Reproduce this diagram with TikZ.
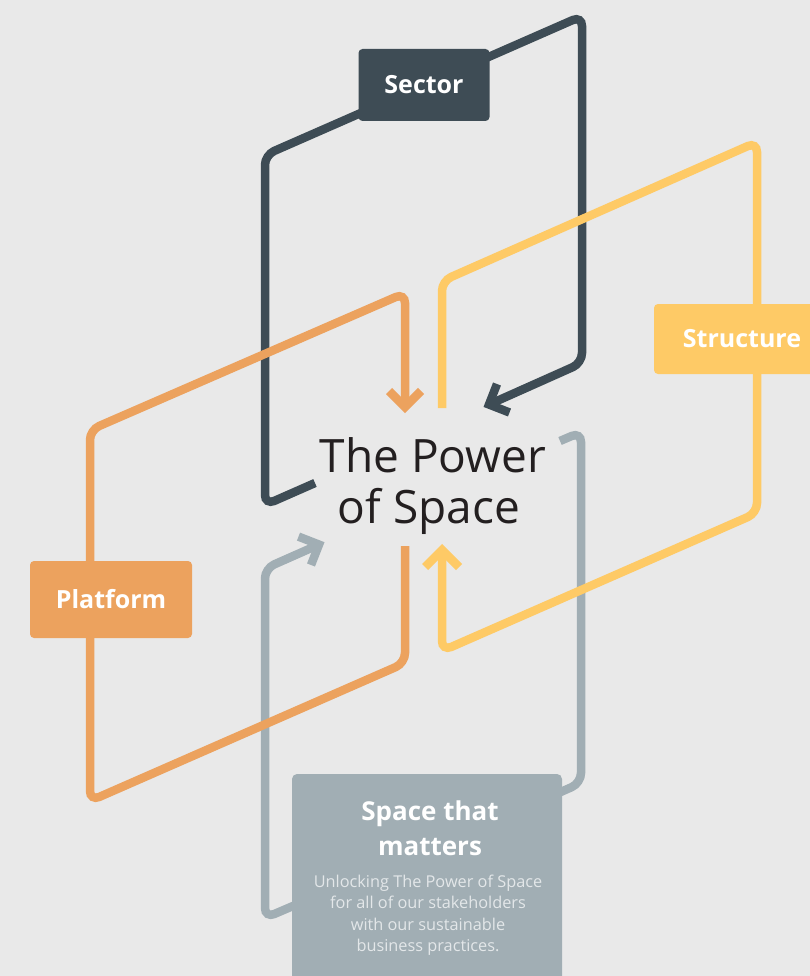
\documentclass[tikz,border=0pt]{standalone}
\usepackage{fontspec}
\setmainfont{Open Sans}
\definecolor{bg}{HTML}{E9E9E9}
\definecolor{slate}{HTML}{3E4C55}
\definecolor{amber}{HTML}{ECA25E}
\definecolor{sun}{HTML}{FECA66}
\definecolor{steel}{HTML}{A1AEB4}
\definecolor{ink}{HTML}{231F20}
\definecolor{pale}{HTML}{E3E7E9}
\tikzset{
  loopline/.style={line width=8.5pt, rounded corners=10pt, line cap=butt},
  chevron/.style={line width=8.5pt, line join=miter, line cap=butt},
  tag/.style={rounded corners=4pt, inner sep=0pt, text=white,
    font=\bfseries\fontsize{25}{29}\selectfont},
  headline/.style={text=ink, inner sep=0pt, font=\fontsize{46}{52}\selectfont},
  cardtitle/.style={text=white, inner sep=0pt, font=\bfseries\fontsize{26}{30}\selectfont},
  cardtext/.style={text=pale, inner sep=0pt, font=\fontsize{16.3}{20}\selectfont}
}
\begin{document}
\begin{tikzpicture}[x=1pt,y=-1pt]
\clip (0,0) rectangle (810,976);
\fill[bg] (0,0) rectangle (810,976);

% corner points of the four loops
\coordinate (s0) at (315,483);   \coordinate (s1) at (265,505);
\coordinate (s2) at (265,155);   \coordinate (s3) at (582,16);
\coordinate (s4) at (582,363);   \coordinate (sT) at (489,404.5);
\coordinate (sL) at (497,384);   \coordinate (sR) at (509.5,412.5);

\coordinate (g0) at (560,441);   \coordinate (g1) at (581,432);
\coordinate (g2) at (581,783);   \coordinate (g3) at (555,794.5);
\coordinate (g4) at (300,903);   \coordinate (g5) at (265,918);
\coordinate (g6) at (265,568.5); \coordinate (gT) at (319,544.6);
\coordinate (gL) at (298.5,536.6); \coordinate (gR) at (311,565);

\coordinate (p0) at (405,546);   \coordinate (p1) at (405,663);
\coordinate (p2) at (90,801);    \coordinate (p3) at (90,430);
\coordinate (p4) at (405,293);   \coordinate (pT) at (405,407);
\coordinate (pL) at (389,391);   \coordinate (pR) at (421,391);

\coordinate (y0) at (442,408);   \coordinate (y1) at (442,281);
\coordinate (y2) at (757,142);   \coordinate (y3) at (757,513);
\coordinate (y4) at (442,651);   \coordinate (yT) at (442,550);
\coordinate (yL) at (425,567);   \coordinate (yR) at (459,567);

% loops, back to front
\draw[loopline, slate] (s0) -- (s1) -- (s2) -- (s3) -- (s4) -- (sT);
\draw[chevron, slate] (sL) -- (sT) -- (sR);

\draw[loopline, steel] (g0) -- (g1) -- (g2) -- (g3);
\draw[loopline, steel] (g4) -- (g5) -- (g6) -- (gT);
\draw[chevron, steel] (gL) -- (gT) -- (gR);

\draw[loopline, amber] (p0) -- (p1) -- (p2) -- (p3) -- (p4) -- (pT);
\draw[chevron, amber] (pL) -- (pT) -- (pR);

\draw[loopline, sun] (y0) -- (y1) -- (y2) -- (y3) -- (y4) -- (yT);
\draw[chevron, sun] (yL) -- (yT) -- (yR);

% labels sitting on the loops
\node[tag, fill=slate, minimum width=131pt, minimum height=72pt] (sector) at (424,85) {Sector};
\node[tag, fill=amber, minimum width=162pt, minimum height=77pt] (platform) at (111,599.5) {Platform};
\node[tag, fill=sun, minimum width=176pt, minimum height=70pt] (structure) at (742,339) {Structure};

% centre title
\node[headline, anchor=base] (title1) at (433,472) {The Power};
\node[headline, anchor=base] (title2) at (429,523) {of Space};

% bottom card
\node[rounded corners=5pt, fill=steel, minimum width=270pt, minimum height=230pt, inner sep=0pt] (card) at (427,889) {};
\node[cardtitle, anchor=base] (cardA) at (430,820) {Space that};
\node[cardtitle, anchor=base] (cardB) at (430,855) {matters};
\node[cardtext, anchor=base] (line1) at (428,887) {Unlocking The Power of Space};
\node[cardtext, anchor=base] (line2) at (428,908.5) {for all of our stakeholders};
\node[cardtext, anchor=base] (line3) at (428,930) {with our sustainable};
\node[cardtext, anchor=base] (line4) at (428,951.5) {business practices.};
\end{tikzpicture}
\end{document}
